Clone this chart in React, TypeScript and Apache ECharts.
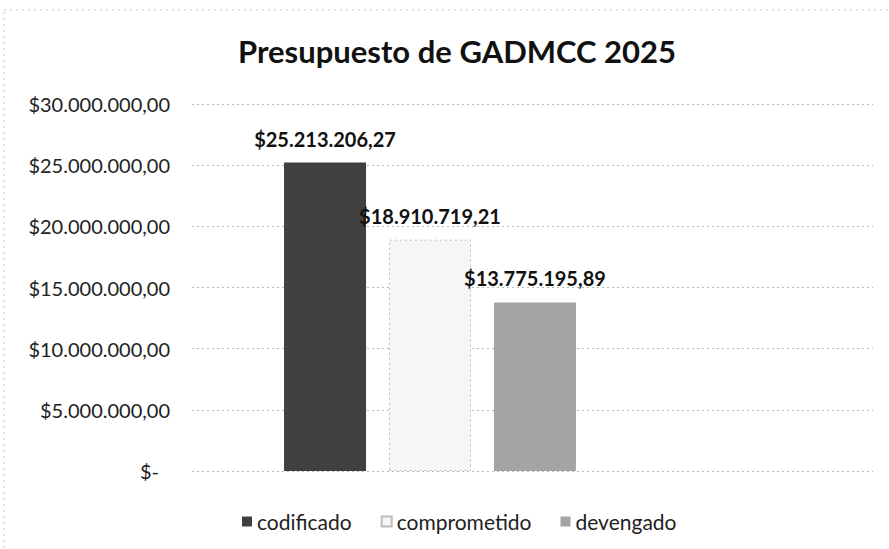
import React, { useEffect, useRef } from "react";
import * as echarts from "echarts";

const TITLE = "Presupuesto de GADMCC 2025";
const CATEGORIES = ["Presupuesto"];
const SERIES_NAMES = ["codificado", "comprometido", "devengado"];
const CODIFICADO = [25213206.27];
const COMPROMETIDO = [18910719.21];
const DEVENGADO = [13775195.89];
const Y_MIN = 0;
const Y_MAX = 30000000;
const Y_INTERVAL = 5000000;

const FONT = "Lato, 'Open Sans', sans-serif";

function money(v: number): string {
  if (v === 0) return "$-";
  const fixed = v.toFixed(2);
  const [intPart, dec] = fixed.split(".");
  const withDots = intPart.replace(/\B(?=(\d{3})+(?!\d))/g, ".");
  return "$" + withDots + "," + dec;
}

export default function App() {
  const ref = useRef<HTMLDivElement>(null);
  useEffect(() => {
    if (!ref.current) return;
    const chart = echarts.init(ref.current, undefined, { renderer: "svg" });
    const labelCfg = {
      show: true,
      position: "top" as const,
      distance: 14,
      fontFamily: FONT,
      fontWeight: "bold" as const,
      fontSize: 20,
      color: "#111",
      formatter: (p: any) => money(p.value),
    };
    chart.setOption({
      animation: false,
      backgroundColor: "#fff",
      textStyle: { fontFamily: FONT },
      title: {
        text: TITLE,
        left: 452,
        top: 30,
        textAlign: "center",
        textStyle: { fontFamily: FONT, fontWeight: "bold", fontSize: 31, color: "#111" },
      },
      graphic: [
        {
          type: "rect",
          shape: { x: 4, y: 10, width: 900, height: 560 },
          style: { fill: "none", stroke: "#c8c8c8", lineWidth: 1, lineDash: [2, 4] },
          silent: true,
        },
      ],
      legend: {
        data: SERIES_NAMES,
        left: 237,
        top: 506,
        icon: "rect",
        itemWidth: 10,
        itemHeight: 10,
        itemGap: 29,
        textStyle: { fontFamily: FONT, fontSize: 21, color: "#222" },
      },
      grid: [
        { left: 192, right: 16, top: 104, bottom: 78 },
        { left: 192, width: 476, top: 104, bottom: 78 },
      ],
      xAxis: [
        {
          gridIndex: 0,
          type: "category",
          data: [""],
          axisLine: { show: false },
          axisTick: { show: false },
          axisLabel: { show: false },
        },
        {
          gridIndex: 1,
          type: "category",
          data: CATEGORIES,
          axisLine: { show: false },
          axisTick: { show: false },
          axisLabel: { show: false },
        },
      ],
      yAxis: [
        {
          gridIndex: 0,
          type: "value",
          min: Y_MIN,
          max: Y_MAX,
          interval: Y_INTERVAL,
          axisLine: { show: false },
          axisTick: { show: false },
          axisLabel: {
            margin: 22,
            fontFamily: FONT,
            fontSize: 20,
            color: "#222",
            formatter: (v: number) => (v === 0 ? "{z|$-}" : money(v)),
            rich: { z: { fontFamily: FONT, fontSize: 20, color: "#222", padding: [0, 11, 0, 0] } },
          },
          splitLine: { lineStyle: { color: "#b8b8b8", type: [2, 3], width: 1 } },
        },
        {
          gridIndex: 1,
          type: "value",
          min: Y_MIN,
          max: Y_MAX,
          interval: Y_INTERVAL,
          show: false,
          splitLine: { show: false },
        },
      ],
      series: [
        {
          name: SERIES_NAMES[0],
          type: "bar",
          xAxisIndex: 1,
          yAxisIndex: 1,
          data: CODIFICADO,
          barWidth: 82,
          barGap: "28%",
          itemStyle: { color: "#404040" },
          label: labelCfg,
        },
        {
          name: SERIES_NAMES[1],
          type: "bar",
          xAxisIndex: 1,
          yAxisIndex: 1,
          data: COMPROMETIDO,
          barWidth: 82,
          barGap: "28%",
          itemStyle: { color: "#f6f6f6", borderColor: "#bdbdbd", borderWidth: 1, borderType: [2, 3] },
          label: labelCfg,
        },
        {
          name: SERIES_NAMES[2],
          type: "bar",
          xAxisIndex: 1,
          yAxisIndex: 1,
          data: DEVENGADO,
          barWidth: 82,
          barGap: "28%",
          itemStyle: { color: "#a4a4a4" },
          label: labelCfg,
        },
      ],
    });
    return () => chart.dispose();
  }, []);
  return <div ref={ref} style={{ width: 889, height: 549, position: "absolute", left: 0, top: 0 }} />;
}
